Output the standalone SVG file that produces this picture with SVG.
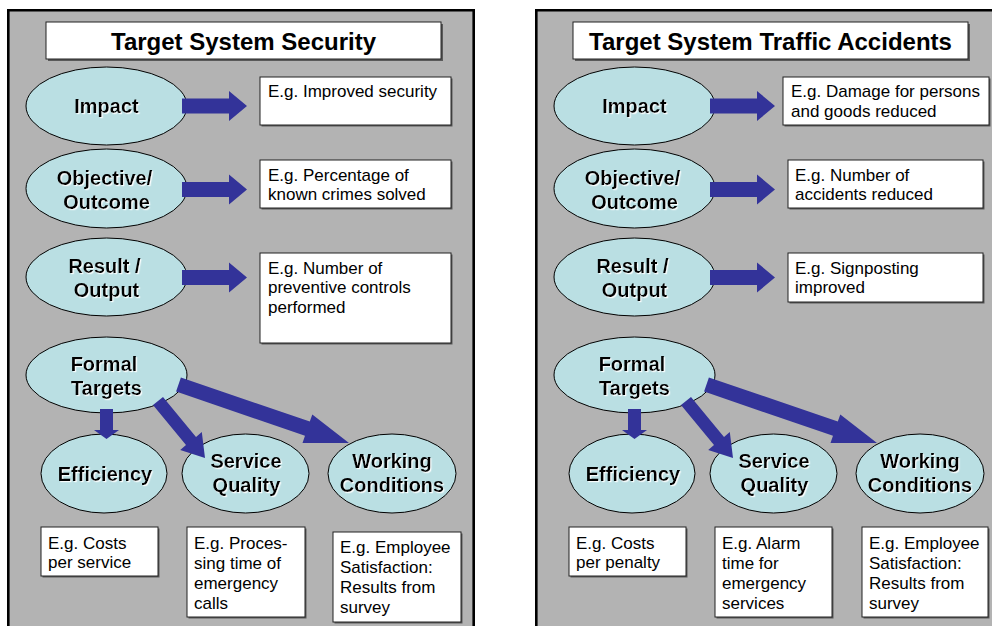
<svg xmlns="http://www.w3.org/2000/svg" xmlns:xlink="http://www.w3.org/1999/xlink" width="992" height="626" viewBox="0 0 992 626">
<style>
.panel{fill:#b3b3b3;stroke:none}
.frame{fill:none;stroke:#000;stroke-width:2.6}
.ell{fill:#badfe3;stroke:#000;stroke-width:1}
.lbl{font-family:"Liberation Sans",Arial,sans-serif;font-weight:bold;font-size:20px;fill:#000;text-anchor:middle;filter:url(#ts)}
.title{font-family:"Liberation Sans",Arial,sans-serif;font-weight:bold;font-size:24px;fill:#000;text-anchor:middle}
.box{fill:#fff;stroke:#222;stroke-width:1}
.shd{fill:#5a5a5a}
.txt{font-family:"Liberation Sans",Arial,sans-serif;font-size:17px;fill:#000}
.arr{fill:#333399;stroke:none}
</style>
<defs>
<filter id="ts" x="-10%" y="-20%" width="130%" height="150%">
<feDropShadow dx="1.2" dy="1.2" stdDeviation="0.4" flood-color="#ffffff" flood-opacity="0.9"/>
</filter>
<path id="harrow" d="M0,-7.5 H47 V-15 L65,0 L47,15 V7.5 H0 Z"/>
</defs>

<!-- panels -->
<g id="panel-left">
<rect class="panel" x="8" y="10" width="466" height="620"/>
<path class="frame" d="M8.3,630 V10.3 H473.7 V630"/>
</g>
<g id="panel-right">
<rect class="panel" x="536" y="10" width="460" height="620"/>
<path class="frame" d="M536.3,630 V10.3 H996"/>
</g>

<!-- LEFT PANEL -->
<g id="title-left">
<rect class="shd" x="48" y="24" width="395" height="37"/>
<rect class="box" x="46" y="22" width="395" height="37" stroke="#333"/>
<text class="title" x="243.5" y="49.5">Target System Security</text>
</g>

<g id="impact-left">
<ellipse class="ell" cx="106.5" cy="106" rx="80.5" ry="39"/>
<text class="lbl" x="106.5" y="113">Impact</text>
</g>
<g id="objective-left">
<ellipse class="ell" cx="106.5" cy="188.5" rx="80.5" ry="39.5"/>
<text class="lbl" x="104.5" y="185">Objective/</text>
<text class="lbl" x="106.5" y="209">Outcome</text>
</g>
<g id="result-left">
<ellipse class="ell" cx="106.5" cy="277" rx="80.5" ry="39"/>
<text class="lbl" x="104.5" y="273">Result /</text>
<text class="lbl" x="106.5" y="297">Output</text>
</g>
<g id="formal-left">
<ellipse class="ell" cx="106.5" cy="375" rx="80.5" ry="38"/>
<text class="lbl" x="104" y="371">Formal</text>
<text class="lbl" x="106.5" y="395">Targets</text>
</g>
<g id="efficiency-left">
<ellipse class="ell" cx="104" cy="473.5" rx="63" ry="39.5"/>
<text class="lbl" x="105" y="481">Efficiency</text>
</g>
<g id="service-left">
<ellipse class="ell" cx="245.5" cy="473.5" rx="63.5" ry="39.5"/>
<text class="lbl" x="246" y="468">Service</text>
<text class="lbl" x="246.5" y="492">Quality</text>
</g>
<g id="working-left">
<ellipse class="ell" cx="392" cy="473.5" rx="64" ry="39.5"/>
<text class="lbl" x="392" y="468">Working</text>
<text class="lbl" x="392" y="492">Conditions</text>
</g>

<g id="box-impact-left">
<rect class="shd" x="261.5" y="78.5" width="191" height="48"/>
<rect class="box" x="260" y="77" width="191" height="48"/>
<text class="txt" x="268" y="97">E.g. Improved security</text>
</g>
<g id="box-objective-left">
<rect class="shd" x="261.5" y="161.5" width="191" height="48"/>
<rect class="box" x="260" y="160" width="191" height="48"/>
<text class="txt" x="268" y="180.5">E.g. Percentage of</text>
<text class="txt" x="268" y="200">known crimes solved</text>
</g>
<g id="box-result-left">
<rect class="shd" x="261.5" y="254.5" width="191" height="90"/>
<rect class="box" x="260" y="253" width="191" height="90"/>
<text class="txt" x="268" y="273.5">E.g. Number of</text>
<text class="txt" x="268" y="293">preventive controls</text>
<text class="txt" x="268" y="312.5">performed</text>
</g>
<g id="box-efficiency-left">
<rect class="shd" x="42.5" y="528.5" width="117" height="49"/>
<rect class="box" x="41" y="527" width="117" height="49"/>
<text class="txt" x="48" y="548.5">E.g. Costs</text>
<text class="txt" x="48" y="568">per service</text>
</g>
<g id="box-service-left">
<rect class="shd" x="188.5" y="528.5" width="118" height="90"/>
<rect class="box" x="187" y="527" width="118" height="90"/>
<text class="txt" x="194" y="548.5">E.g. Proces-</text>
<text class="txt" x="194" y="568.5">sing time of</text>
<text class="txt" x="194" y="588.5">emergency</text>
<text class="txt" x="194" y="608.5">calls</text>
</g>
<g id="box-working-left">
<rect class="shd" x="334.5" y="533.5" width="128" height="90"/>
<rect class="box" x="333" y="532" width="128" height="90"/>
<text class="txt" x="340" y="553">E.g. Employee</text>
<text class="txt" x="340" y="573">Satisfaction:</text>
<text class="txt" x="340" y="593">Results from</text>
<text class="txt" x="340" y="613">survey</text>
</g>

<!-- RIGHT PANEL -->
<g id="title-right">
<rect class="shd" x="575" y="24" width="395" height="37"/>
<rect class="box" x="573" y="22" width="395" height="37" stroke="#333"/>
<text class="title" x="770.5" y="49.5">Target System Traffic Accidents</text>
</g>

<g id="impact-right">
<ellipse class="ell" cx="634.5" cy="106" rx="80.5" ry="39"/>
<text class="lbl" x="634.5" y="113">Impact</text>
</g>
<g id="objective-right">
<ellipse class="ell" cx="634.5" cy="188.5" rx="80.5" ry="39.5"/>
<text class="lbl" x="632.5" y="185">Objective/</text>
<text class="lbl" x="634.5" y="209">Outcome</text>
</g>
<g id="result-right">
<ellipse class="ell" cx="634.5" cy="277" rx="80.5" ry="39"/>
<text class="lbl" x="632.5" y="273">Result /</text>
<text class="lbl" x="634.5" y="297">Output</text>
</g>
<g id="formal-right">
<ellipse class="ell" cx="634.5" cy="375" rx="80.5" ry="38"/>
<text class="lbl" x="632" y="371">Formal</text>
<text class="lbl" x="634.5" y="395">Targets</text>
</g>
<g id="efficiency-right">
<ellipse class="ell" cx="632" cy="473.5" rx="63" ry="39.5"/>
<text class="lbl" x="633" y="481">Efficiency</text>
</g>
<g id="service-right">
<ellipse class="ell" cx="773.5" cy="473.5" rx="63.5" ry="39.5"/>
<text class="lbl" x="774" y="468">Service</text>
<text class="lbl" x="774.5" y="492">Quality</text>
</g>
<g id="working-right">
<ellipse class="ell" cx="920" cy="473.5" rx="64" ry="39.5"/>
<text class="lbl" x="920" y="468">Working</text>
<text class="lbl" x="920" y="492">Conditions</text>
</g>

<g id="box-impact-right">
<rect class="shd" x="784.5" y="78.5" width="206" height="48"/>
<rect class="box" x="783" y="77" width="206" height="48"/>
<text class="txt" x="791" y="97">E.g. Damage for persons</text>
<text class="txt" x="791" y="116.5">and goods reduced</text>
</g>
<g id="box-objective-right">
<rect class="shd" x="789.5" y="161.5" width="195" height="48"/>
<rect class="box" x="788" y="160" width="195" height="48"/>
<text class="txt" x="795" y="180.5">E.g. Number of</text>
<text class="txt" x="795" y="200">accidents reduced</text>
</g>
<g id="box-result-right">
<rect class="shd" x="789.5" y="254.5" width="195" height="49"/>
<rect class="box" x="788" y="253" width="195" height="49"/>
<text class="txt" x="795" y="273.5">E.g. Signposting</text>
<text class="txt" x="795" y="293">improved</text>
</g>
<g id="box-efficiency-right">
<rect class="shd" x="570.5" y="528.5" width="117" height="49"/>
<rect class="box" x="569" y="527" width="117" height="49"/>
<text class="txt" x="576" y="548.5">E.g. Costs</text>
<text class="txt" x="576" y="568">per penalty</text>
</g>
<g id="box-service-right">
<rect class="shd" x="716.5" y="528.5" width="117" height="90"/>
<rect class="box" x="715" y="527" width="117" height="90"/>
<text class="txt" x="722" y="548.5">E.g. Alarm</text>
<text class="txt" x="722" y="568.5">time for</text>
<text class="txt" x="722" y="588.5">emergency</text>
<text class="txt" x="722" y="608.5">services</text>
</g>
<g id="box-working-right">
<rect class="shd" x="863.5" y="528.5" width="126" height="90"/>
<rect class="box" x="862" y="527" width="126" height="90"/>
<text class="txt" x="869" y="548.5">E.g. Employee</text>
<text class="txt" x="869" y="568.5">Satisfaction:</text>
<text class="txt" x="869" y="588.5">Results from</text>
<text class="txt" x="869" y="608.5">survey</text>
</g>

<!-- CONNECTORS -->
<g id="connectors">
<use class="arr" xlink:href="#harrow" href="#harrow" transform="translate(182,106)"/>
<use class="arr" xlink:href="#harrow" href="#harrow" transform="translate(182,189.5)"/>
<use class="arr" xlink:href="#harrow" href="#harrow" transform="translate(182,277.5)"/>
<polygon class="arr" points="100,409 113,409 113,430 119,430 106.5,439 94,430 100,430"/>
<polygon class="arr" points="163,396.9 196,436.9 201.8,432.1 205,458 180.2,449.9 186,445.1 153,405.1"/>
<polygon class="arr" points="180.9,377.4 309.8,421.6 312.3,414.5 349,443 302.5,442.9 305,435.8 176.1,391.6"/>

<use class="arr" xlink:href="#harrow" href="#harrow" transform="translate(710,106)"/>
<use class="arr" xlink:href="#harrow" href="#harrow" transform="translate(710,189.5)"/>
<use class="arr" xlink:href="#harrow" href="#harrow" transform="translate(710,277.5)"/>
<g transform="translate(528,0)">
<polygon class="arr" points="100,409 113,409 113,430 119,430 106.5,439 94,430 100,430"/>
<polygon class="arr" points="163,396.9 196,436.9 201.8,432.1 205,458 180.2,449.9 186,445.1 153,405.1"/>
<polygon class="arr" points="180.9,377.4 309.8,421.6 312.3,414.5 349,443 302.5,442.9 305,435.8 176.1,391.6"/>
</g>
</g>
</svg>
